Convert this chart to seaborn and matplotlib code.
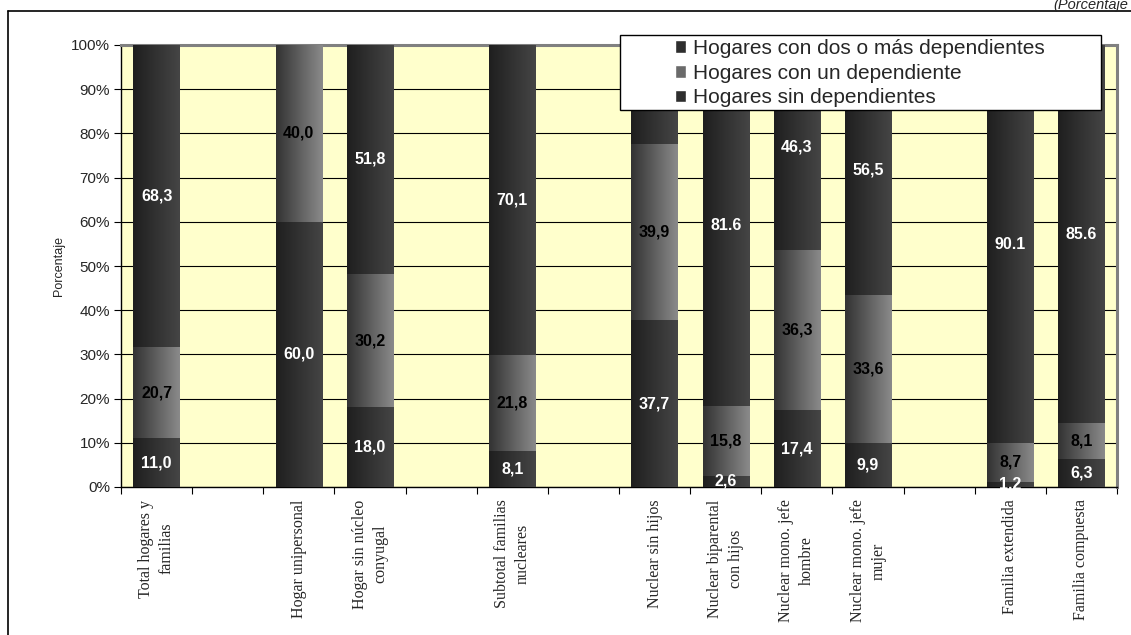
import numpy as np
import pandas as pd
import matplotlib
matplotlib.use("Agg")
import matplotlib.pyplot as plt
import seaborn as sns
from matplotlib.patches import Patch, Rectangle
from matplotlib.lines import Line2D
from matplotlib.colors import LinearSegmentedColormap
from matplotlib.ticker import FixedLocator, PercentFormatter

# data (percent, bottom to top in each bar)
categories = ["Total hogares y\nfamilias", "Hogar unipersonal", "Hogar sin núcleo\nconyugal",
              "Subtotal familias\nnucleares", "Nuclear sin hijos", "Nuclear biparental\ncon hijos",
              "Nuclear mono. jefe\nhombre", "Nuclear mono. jefe\nmujer", "Familia extendida",
              "Familia compuesta"]
# empty slots between groups of bars
slot_order = [categories[0], "_g1", categories[1], categories[2], "_g2", categories[3], "_g3",
              categories[4], categories[5], categories[6], categories[7], "_g4",
              categories[8], categories[9]]
sin_dep = [11.0, 60.0, 18.0, 8.1, 37.7, 2.6, 17.4, 9.9, 1.2, 6.3]
un_dep = [20.7, 40.0, 30.2, 21.8, 39.9, 15.8, 36.3, 33.6, 8.7, 8.1]
dos_dep = [68.3, 0.0, 51.8, 70.1, 22.4, 81.6, 46.3, 56.5, 90.1, 85.6]
sin_labels = ["11,0", "60,0", "18,0", "8,1", "37,7", "2,6", "17,4", "9,9", "1,2", "6,3"]
un_labels = ["20,7", "40,0", "30,2", "21,8", "39,9", "15,8", "36,3", "33,6", "8,7", "8,1"]
dos_labels = ["68,3", "", "51,8", "70,1", "22,4", "81.6", "46,3", "56,5", "90.1", "85.6"]
series_names = ["Hogares con dos o más dependientes", "Hogares con un dependiente",
                "Hogares sin dependientes"]

df = pd.DataFrame({"cat": categories, "sin": sin_dep, "un": un_dep, "dos": dos_dep})
df["c_sin"] = df["sin"]
df["c_un"] = df["sin"] + df["un"]
df["c_dos"] = df["sin"] + df["un"] + df["dos"]

sns.set_theme(style="white")
plt.rcParams["font.family"] = ["Liberation Sans", "DejaVu Sans"]

fig = plt.figure(figsize=(11.31, 6.35), dpi=100)
ax = fig.add_axes([121 / 1131, 1 - 487 / 635, 996 / 1131, 442 / 635])
ax.set_facecolor("#FFFFCC")

dark = ("#1f1f1f", "#454545")
gray = ("#333333", "#8a8a8a")


def shade(patch, c0, c1, z):
    x, y = patch.get_x(), patch.get_y()
    w, h = patch.get_width(), patch.get_height()
    patch.set_zorder(z)
    if not np.isfinite(h) or h <= 0:
        return
    cmap = LinearSegmentedColormap.from_list("g", [c0, c1])
    grad = np.linspace(0, 1, 64).reshape(1, -1)
    im = ax.imshow(grad, cmap=cmap, extent=(x, x + w, y, y + h), aspect="auto",
                   origin="lower", interpolation="bilinear", zorder=z + 0.1)
    im.set_clip_path(patch)


layers = [("c_dos", dark), ("c_un", gray), ("c_sin", dark)]
for i, (col, cols) in enumerate(layers):
    sns.barplot(data=df, x="cat", y=col, order=slot_order, color=cols[1], width=0.65,
                linewidth=0, ax=ax)
    for p in ax.containers[-1]:
        shade(p, cols[0], cols[1], 3 + i)

ax.set_xlim(-0.5, len(slot_order) - 0.5)
ax.set_ylim(0, 100)

# data labels
pos = [slot_order.index(c) for c in categories]
for k, x in enumerate(pos):
    ax.text(x, sin_dep[k] / 2, sin_labels[k], ha="center", va="center", color="white",
            fontsize=11.5, fontweight="bold", zorder=10)
    ax.text(x, sin_dep[k] + un_dep[k] / 2, un_labels[k], ha="center", va="center",
            color="black", fontsize=11.5, fontweight="bold", zorder=10)
    if dos_labels[k]:
        ax.text(x, sin_dep[k] + un_dep[k] + dos_dep[k] / 2, dos_labels[k], ha="center",
                va="center", color="white", fontsize=11.5, fontweight="bold", zorder=10)

# grid and axes
ax.set_yticks(np.arange(0, 101, 10))
ax.yaxis.set_major_formatter(PercentFormatter(decimals=0))
ax.grid(axis="y", color="black", linewidth=0.8)
ax.grid(axis="x", visible=False)
ax.set_axisbelow(True)
ax.tick_params(axis="y", direction="out", length=5, width=0.8, color="black",
               labelsize=11, pad=3, left=True)
ax.set_ylabel("Porcentaje", fontsize=9, labelpad=4)

ax.set_xticks(range(len(slot_order)))
ax.set_xticklabels([s if not s.startswith("_") else "" for s in slot_order])
ax.xaxis.set_minor_locator(FixedLocator(np.arange(-0.5, len(slot_order), 1)))
ax.tick_params(axis="x", which="major", length=0, pad=9)
ax.tick_params(axis="x", which="minor", direction="out", length=5, width=0.8,
               color="black", bottom=True)
for t in ax.get_xticklabels():
    t.set_rotation(90)
    t.set_ha("center")
    t.set_va("top")
    t.set_multialignment("center")
    t.set_linespacing(1.4)
    t.set_family(["Liberation Serif", "DejaVu Serif"])
    t.set_fontsize(11.5)
ax.set_xlabel("")

for s in ["left", "bottom"]:
    ax.spines[s].set_color("black")
    ax.spines[s].set_linewidth(1)
for s in ["top", "right"]:
    ax.spines[s].set_color("#808080")
    ax.spines[s].set_linewidth(2.2)

# legend with its own box
fig.add_artist(Rectangle((620 / 1131, 1 - 110 / 635), 481 / 1131, 75 / 635,
                         transform=fig.transFigure, facecolor="white", edgecolor="black",
                         linewidth=1, zorder=4))
handles = [Patch(facecolor="#2e2e2e"), Patch(facecolor="#6a6a6a"), Patch(facecolor="#2e2e2e")]
fig.legend(handles, series_names, loc="upper left", bbox_to_anchor=(675 / 1131, 1 - 39 / 635),
           frameon=False, fontsize=15, handlelength=0.55, handleheight=0.55,
           handletextpad=0.3, labelspacing=0.27, borderpad=0, borderaxespad=0)

# outer frame and title fragment
fig.add_artist(Line2D([8 / 1131, 1], [1 - 11 / 635] * 2, color="black", linewidth=1.2,
                      transform=fig.transFigure))
fig.add_artist(Line2D([8 / 1131] * 2, [0, 1 - 11 / 635], color="black", linewidth=1.2,
                      transform=fig.transFigure))
fig.text(1128 / 1131, 1 - 9 / 635, "(Porcentaje", fontsize=10.5, style="italic",
         ha="right", va="baseline")

fig.savefig("out.png", dpi=100)
